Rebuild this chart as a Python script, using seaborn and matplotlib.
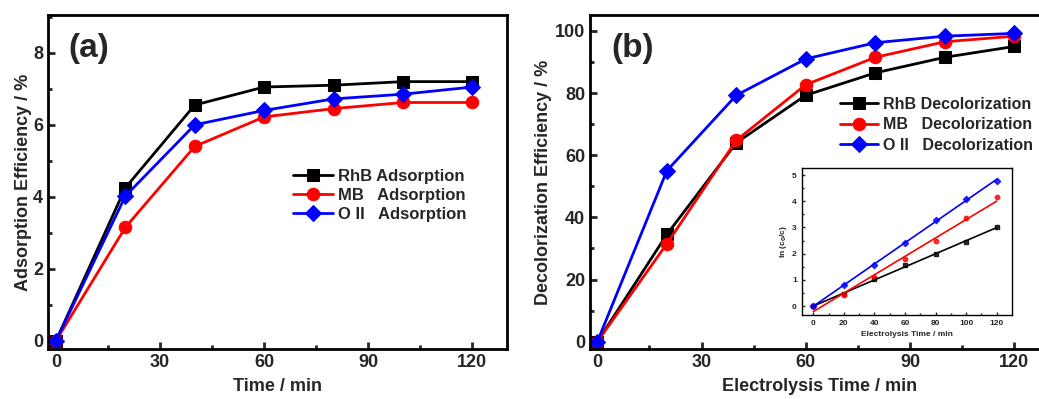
import numpy as np
import pandas as pd
import matplotlib
matplotlib.use('Agg')
import matplotlib.pyplot as plt
import seaborn as sns
from matplotlib.ticker import MultipleLocator

sns.set_style('ticks')
plt.rcParams['font.family'] = ['Liberation Sans', 'DejaVu Sans']
plt.rcParams['font.weight'] = 'bold'
plt.rcParams['axes.labelweight'] = 'bold'

# data
time = [0, 20, 40, 60, 80, 100, 120]

rhb_ads = [0, 4.25, 6.55, 7.05, 7.1, 7.2, 7.2]
mb_ads = [0, 3.15, 5.4, 6.22, 6.45, 6.62, 6.62]
oii_ads = [0, 4.02, 6.0, 6.4, 6.72, 6.85, 7.05]

rhb_dec = [0, 34.5, 64.0, 79.3, 86.5, 91.5, 95.0]
mb_dec = [0, 31.5, 64.8, 82.7, 91.5, 96.5, 98.3]
oii_dec = [0, 55.0, 79.3, 91.0, 96.2, 98.3, 99.2]

# inset: ln(c0/c) vs time
rhb_ln = [0, 0.45, 1.02, 1.57, 2.0, 2.45, 3.0]
mb_ln = [0, 0.43, 1.1, 1.78, 2.48, 3.35, 4.15]
oii_ln = [0, 0.8, 1.58, 2.4, 3.28, 4.08, 4.78]

colors = ['black', 'red', 'blue']
markers = ['s', 'o', 'D']

fig = plt.figure(figsize=(10.39, 3.99), dpi=100)
ax1 = fig.add_axes([0.0462, 0.1253, 0.4418, 0.837])
ax2 = fig.add_axes([0.5679, 0.1253, 0.4418, 0.837])
ax3 = fig.add_axes([0.7716, 0.2105, 0.2021, 0.3684])


def style_axis(ax, xmaj, xmin, ymaj, ymin, size, lw):
    ax.xaxis.set_major_locator(MultipleLocator(xmaj))
    ax.xaxis.set_minor_locator(MultipleLocator(xmin))
    ax.yaxis.set_major_locator(MultipleLocator(ymaj))
    ax.yaxis.set_minor_locator(MultipleLocator(ymin))
    ax.tick_params(which='both', direction='in', width=lw, labelsize=size)
    ax.tick_params(which='major', length=lw * 2.5)
    ax.tick_params(which='minor', length=lw * 1.5)
    for s in ax.spines.values():
        s.set_linewidth(lw)
        s.set_color('black')
    for lab in ax.get_xticklabels() + ax.get_yticklabels():
        lab.set_fontweight('bold')


# panel (a)
labels_a = ['RhB Adsorption', 'MB   Adsorption', 'O II   Adsorption']
for y, c, m, lab in zip([rhb_ads, mb_ads, oii_ads], colors, markers, labels_a):
    sns.lineplot(x=time, y=y, ax=ax1, color=c, marker=m, markersize=9 if m != 'D' else 8,
                 markeredgecolor=c, linewidth=2, label=lab)
ax1.set_xlim(-2.3, 130)
ax1.set_ylim(-0.23, 9.05)
style_axis(ax1, 30, 15, 2, 1, 13, 2)
ax1.set_xlabel('Time / min', fontsize=13, fontweight='bold', labelpad=5)
ax1.set_ylabel('Adsorption Efficiency / %', fontsize=13, fontweight='bold', labelpad=1)
ax1.text(0.045, 0.945, '(a)', transform=ax1.transAxes, fontsize=24, fontweight='bold', va='top')
ax1.legend(loc='upper left', bbox_to_anchor=(0.52, 0.56), frameon=False, fontsize=12,
           handlelength=2.4, handletextpad=0.3, labelspacing=0.25, borderaxespad=0)

# panel (b)
labels_b = ['RhB Decolorization', 'MB   Decolorization', 'O II   Decolorization']
for y, c, m, lab in zip([rhb_dec, mb_dec, oii_dec], colors, markers, labels_b):
    sns.lineplot(x=time, y=y, ax=ax2, color=c, marker=m, markersize=9 if m != 'D' else 8,
                 markeredgecolor=c, linewidth=2, label=lab)
ax2.set_xlim(-2.1, 130)
ax2.set_ylim(-2.35, 105.1)
style_axis(ax2, 30, 15, 20, 10, 13, 2)
ax2.set_xlabel('Electrolysis Time / min', fontsize=13, fontweight='bold', labelpad=5)
ax2.set_ylabel('Decolorization Efficiency / %', fontsize=13, fontweight='bold', labelpad=2)
ax2.text(0.047, 0.945, '(b)', transform=ax2.transAxes, fontsize=24, fontweight='bold', va='top')
ax2.legend(loc='upper left', bbox_to_anchor=(0.53, 0.775), frameon=False, fontsize=11.5,
           handlelength=2.4, handletextpad=0.3, labelspacing=0.35, borderaxespad=0)

# inset
labels_c = ['RhB', 'MB', 'O II']
for y, c, m, lab in zip([rhb_ln, mb_ln, oii_ln], colors, markers, labels_c):
    sns.regplot(x=np.array(time), y=np.array(y), ax=ax3, ci=None, color=c, marker=m,
                scatter_kws={'s': 10, 'label': lab}, line_kws={'linewidth': 1.2}, truncate=True)
ax3.set_xlim(-7.6, 129.8)
ax3.set_ylim(-0.34, 5.27)
style_axis(ax3, 20, 10, 1, 0.5, 6, 1)
ax3.set_xlabel('Electrolysis Time / min', fontsize=6, fontweight='bold', labelpad=3)
ax3.set_ylabel('ln (c$_0$/c)', fontsize=6, labelpad=2)
ax3.legend(loc='upper left', bbox_to_anchor=(0.12, 0.97), frameon=False, fontsize=6,
           handletextpad=0.2, labelspacing=0.3, markerscale=0.9)

fig.savefig('out.png', dpi=100)
